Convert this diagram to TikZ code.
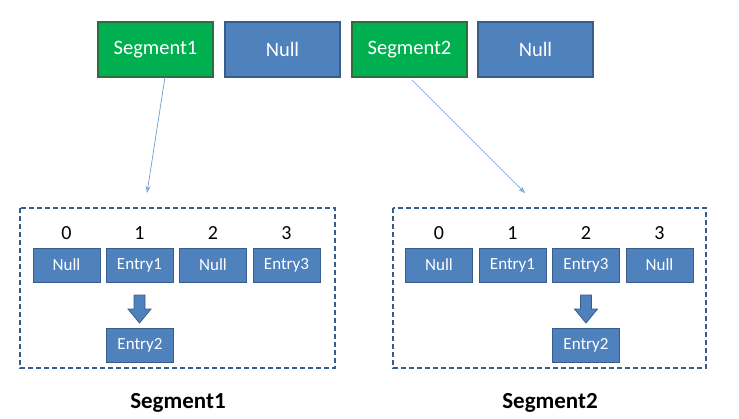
\documentclass[tikz,border=0pt]{standalone}
\usepackage{fontspec}
\setmainfont{Carlito}
\usetikzlibrary{arrows.meta}
\definecolor{cblue}{HTML}{4F81BD}
\definecolor{cbord}{HTML}{385D8A}
\definecolor{cgreen}{HTML}{00B050}
\definecolor{cgbord}{HTML}{2C6E3F}
\begin{document}
\begin{tikzpicture}[x=1pt,y=-1pt,
  topbox/.style={draw=cbord,line width=1.2pt,fill=cblue,text=white,minimum width=115pt,minimum height=55pt,font=\fontsize{20.5}{24}\selectfont,inner sep=0pt},
  greenbox/.style={topbox,fill=cgreen,draw=cgbord},
  cell/.style={draw=cbord,line width=1pt,fill=cblue,text=white,minimum width=67pt,minimum height=34pt,font=\fontsize{17}{20}\selectfont,inner sep=0pt},
  idx/.style={font=\fontsize{20}{24}\selectfont,inner sep=0pt},
  group/.style={draw=cbord,line width=1.6pt,dash pattern=on 5pt off 3pt},
  link/.style={draw=cblue!80,line width=0.7pt,-{Stealth[length=7pt,width=5pt,open]}},
  blockarrow/.style={fill=cblue,draw=cbord,line width=0.8pt},
  caption/.style={font=\bfseries\fontsize{23}{27}\selectfont,inner sep=0pt}]
\useasboundingbox (0,0) rectangle (739,418);
% top row
\node[greenbox] (s1) at (155.5,49.5) {Segment1};
\node[topbox] (n1) at (282.5,49.5) {Null};
\node[greenbox] (s2) at (409.5,49.5) {Segment2};
\node[topbox] (n2) at (535.5,49.5) {Null};
% group frames
\draw[group] (20,208) rectangle (335,368);
\draw[group] (393,208) rectangle (706,368);
\coordinate (g1) at (147,193);
\coordinate (g2) at (525,193);
\coordinate (s1b) at (165,77);
\coordinate (s2b) at (412,80);
\draw[link] (s1b) -- (g1);
\draw[link] (s2b) -- (g2);
% left segment
\node[idx] (l0) at (66.5,233) {0};
\node[idx] (l1) at (139.5,233) {1};
\node[idx] (l2) at (213,233) {2};
\node[idx] (l3) at (286.5,233) {3};
\node[cell] (la) at (66.5,265) {Null};
\node[cell] (lb) at (139.5,265) {Entry1};
\node[cell] (lc) at (213,265) {Null};
\node[cell] (ld) at (286.5,265) {Entry3};
\node[cell] (le) at (140,345.5) {Entry2};
\draw[blockarrow] (134,295) -- (145,295) -- (145,309) -- (151,309) -- (139.5,323) -- (128,309) -- (134,309) -- cycle;
% right segment
\node[idx] (r0) at (439,233) {0};
\node[idx] (r1) at (512.5,233) {1};
\node[idx] (r2) at (586,233) {2};
\node[idx] (r3) at (659.5,233) {3};
\node[cell] (ra) at (439,265) {Null};
\node[cell] (rb) at (512.5,265) {Entry1};
\node[cell] (rc) at (586,265) {Entry3};
\node[cell] (rd) at (659.5,265) {Null};
\node[cell] (re) at (586,345.5) {Entry2};
\draw[blockarrow] (580.5,295) -- (591.5,295) -- (591.5,309) -- (597.5,309) -- (586,323) -- (574.5,309) -- (580.5,309) -- cycle;
% captions
\node[caption] (c1) at (178,403) {Segment1};
\node[caption] (c2) at (550,403) {Segment2};
\end{tikzpicture}
\end{document}
